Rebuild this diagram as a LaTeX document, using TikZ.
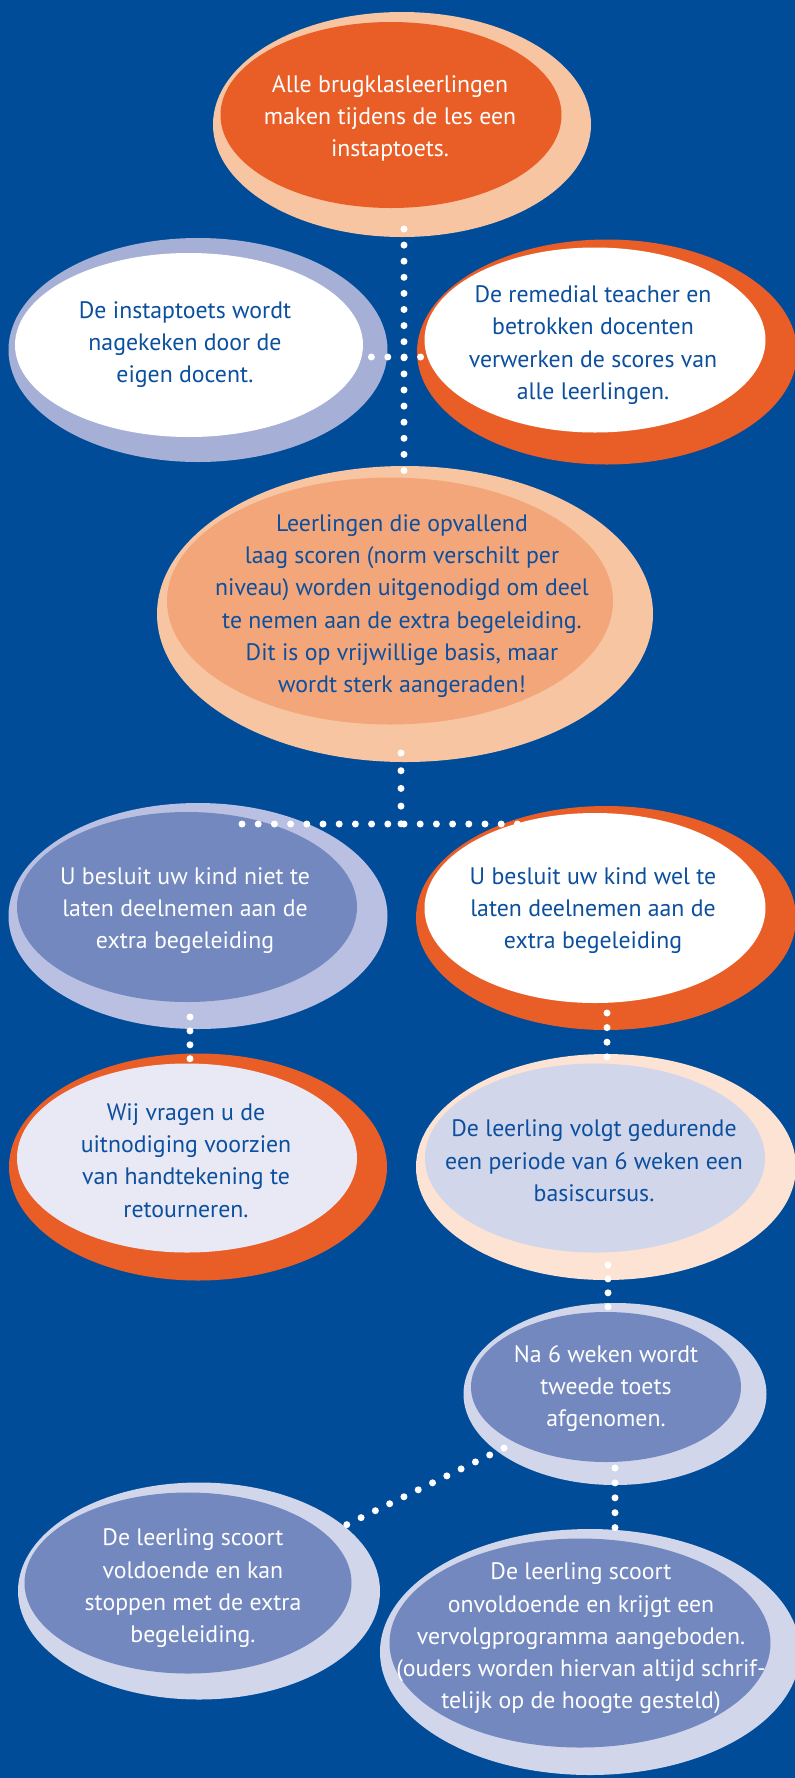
\documentclass[tikz,border=0pt]{standalone}
\usepackage{fontspec}
\setmainfont{PT Sans}
\usetikzlibrary{shapes.geometric}
\definecolor{bg}{HTML}{004C99}
\definecolor{orng}{HTML}{E95E27}
\definecolor{peach}{HTML}{F8C5A2}
\definecolor{salmon}{HTML}{F3A679}
\definecolor{lavA}{HTML}{A6B0D6}
\definecolor{lavB}{HTML}{B9C0E1}
\definecolor{mblue}{HTML}{7388BF}
\definecolor{lblue}{HTML}{D1D6EB}
\definecolor{vpeach}{HTML}{FCE3D3}
\definecolor{vlav}{HTML}{E9E9F5}
\definecolor{tblue}{HTML}{0B4F9E}
\begin{document}
\begin{tikzpicture}[x=1pt,y=-1pt,
  bub/.style={ellipse, inner sep=0pt, outer sep=0pt, draw=none},
  txt/.style={align=center, font=\fontsize{23.8}{32.3}\selectfont, inner sep=0pt},
  wtxt/.style={txt, text=white},
  btxt/.style={txt, text=tblue},
  dotlink/.style={draw=white, line width=7pt, line cap=round, dash pattern=on 0pt off #1}]
\fill[bg] (0,0) rectangle (795,1778);
\useasboundingbox (0,0) rectangle (795,1778);
\clip (0,0) rectangle (795,1778);
% 1 top
\node[bub, fill=peach, minimum width=378pt, minimum height=225pt] (o1) at (402,124.5) {};
\node[bub, fill=orng, minimum width=341pt, minimum height=186pt] (i1) at (391,115) {};
\node[wtxt] (t1) at (390,118.5) {Alle brugklasleerlingen\\maken tijdens de les een\\instaptoets.};
% 2 left
\node[bub, fill=lavA, minimum width=379pt, minimum height=224pt] (o2) at (198,350) {};
\node[bub, fill=white, minimum width=348pt, minimum height=184pt] (i2) at (189,345) {};
\node[btxt] (t2) at (185,344.5) {De instaptoets wordt\\nagekeken door de\\eigen docent.};
% 3 right
\node[bub, fill=orng, minimum width=380pt, minimum height=225pt] (o3) at (607,352) {};
\node[bub, fill=white, minimum width=341pt, minimum height=185pt] (i3) at (595,340) {};
\node[btxt] (t3) at (593,345) {De remedial teacher en\\betrokken docenten\\verwerken de scores van\\alle leerlingen.};
% 4 middle
\node[bub, fill=peach, minimum width=496pt, minimum height=296pt] (o4) at (405,614) {};
\node[bub, fill=salmon, minimum width=446pt, minimum height=247pt] (i4) at (390,601) {};
\node[btxt] (t4) at (402,606) {Leerlingen die opvallend\\laag scoren (norm verschilt per\\niveau) worden uitgenodigd om deel\\te nemen aan de extra begeleiding.\\Dit is op vrijwillige basis, maar\\wordt sterk aangeraden!};
% 5 left
\node[bub, fill=lavB, minimum width=379pt, minimum height=226pt] (o5) at (198,916) {};
\node[bub, fill=mblue, minimum width=340pt, minimum height=190pt] (i5) at (187,907) {};
\node[wtxt] (t5) at (185,910.5) {U besluit uw kind niet te\\laten deelnemen aan de\\extra begeleiding};
% 6 right
\node[bub, fill=orng, minimum width=380pt, minimum height=224pt] (o6) at (606,918) {};
\node[bub, fill=white, minimum width=341pt, minimum height=190pt] (i6) at (595,908) {};
\node[btxt] (t6) at (593,910.5) {U besluit uw kind wel te\\laten deelnemen aan de\\extra begeleiding};
% 7 left
\node[bub, fill=orng, minimum width=378pt, minimum height=227pt] (o7) at (198,1167) {};
\node[bub, fill=vlav, minimum width=340pt, minimum height=189pt] (i7) at (187,1158) {};
\node[btxt] (t7) at (186,1160.5) {Wij vragen u de\\uitnodiging voorzien\\van handtekening te\\retourneren.};
% 8 right
\node[bub, fill=vpeach, minimum width=380pt, minimum height=226pt] (o8) at (606,1167) {};
\node[bub, fill=lblue, minimum width=340pt, minimum height=189pt] (i8) at (595,1158) {};
\node[btxt] (t8) at (594,1161) {De leerling volgt gedurende\\een periode van 6 weken een\\basiscursus.};
% 9 Na 6 weken
\node[bub, fill=lblue, minimum width=303pt, minimum height=182pt] (o9) at (615,1394) {};
\node[bub, fill=mblue, minimum width=270pt, minimum height=150pt] (i9) at (606,1387) {};
\node[wtxt] (t9) at (606,1388.5) {Na 6 weken wordt\\tweede toets\\afgenomen.};
% 10 bottom left
\node[bub, fill=lblue, minimum width=362pt, minimum height=217pt] (o10) at (199,1591) {};
\node[bub, fill=mblue, minimum width=327pt, minimum height=181pt] (i10) at (188,1583) {};
\node[wtxt] (t10) at (193,1588.5) {De leerling scoort\\voldoende en kan\\stoppen met de extra\\begeleiding.};
% 11 bottom right
\node[bub, fill=lblue, minimum width=420pt, minimum height=246pt] (o11) at (590,1652) {};
\node[bub, fill=mblue, minimum width=381pt, minimum height=209pt] (i11) at (580,1643) {};
\node[wtxt] (t11) at (581,1638.5) {De leerling scoort\\onvoldoende en krijgt een\\vervolgprogramma aangeboden.\\(ouders worden hiervan altijd schrif-\\telijk op de hoogte gesteld)};
% connectors
\coordinate (c1a) at (404,229); \coordinate (c1b) at (404,471);
\coordinate (c2a) at (355,357); \coordinate (c2b) at (421,357);
\coordinate (c3a) at (401,753); \coordinate (c3b) at (401,824);
\coordinate (c4a) at (242,824); \coordinate (c4b) at (518,824);
\coordinate (c5a) at (190,1017); \coordinate (c5b) at (190,1059);
\coordinate (c6a) at (607,1013); \coordinate (c6b) at (607,1057);
\coordinate (c7a) at (608,1265); \coordinate (c7b) at (608,1307);
\coordinate (c8a) at (615,1468); \coordinate (c8b) at (615,1528);
\coordinate (c9a) at (504,1448); \coordinate (c9b) at (346,1525);
\draw[dotlink=16.1pt] (c1a) -- (c1b);
\draw[dotlink=16.4pt] (c2a) -- (c2b);
\draw[dotlink=17.7pt] (c3a) -- (c3b);
\draw[dotlink=16.2pt] (c4a) -- (c4b);
\draw[dotlink=13.9pt] (c5a) -- (c5b);
\draw[dotlink=14.6pt] (c6a) -- (c6b);
\draw[dotlink=13.9pt] (c7a) -- (c7b);
\draw[dotlink=14.9pt] (c8a) -- (c8b);
\draw[dotlink=15.9pt] (c9a) -- (c9b);
\end{tikzpicture}
\end{document}
